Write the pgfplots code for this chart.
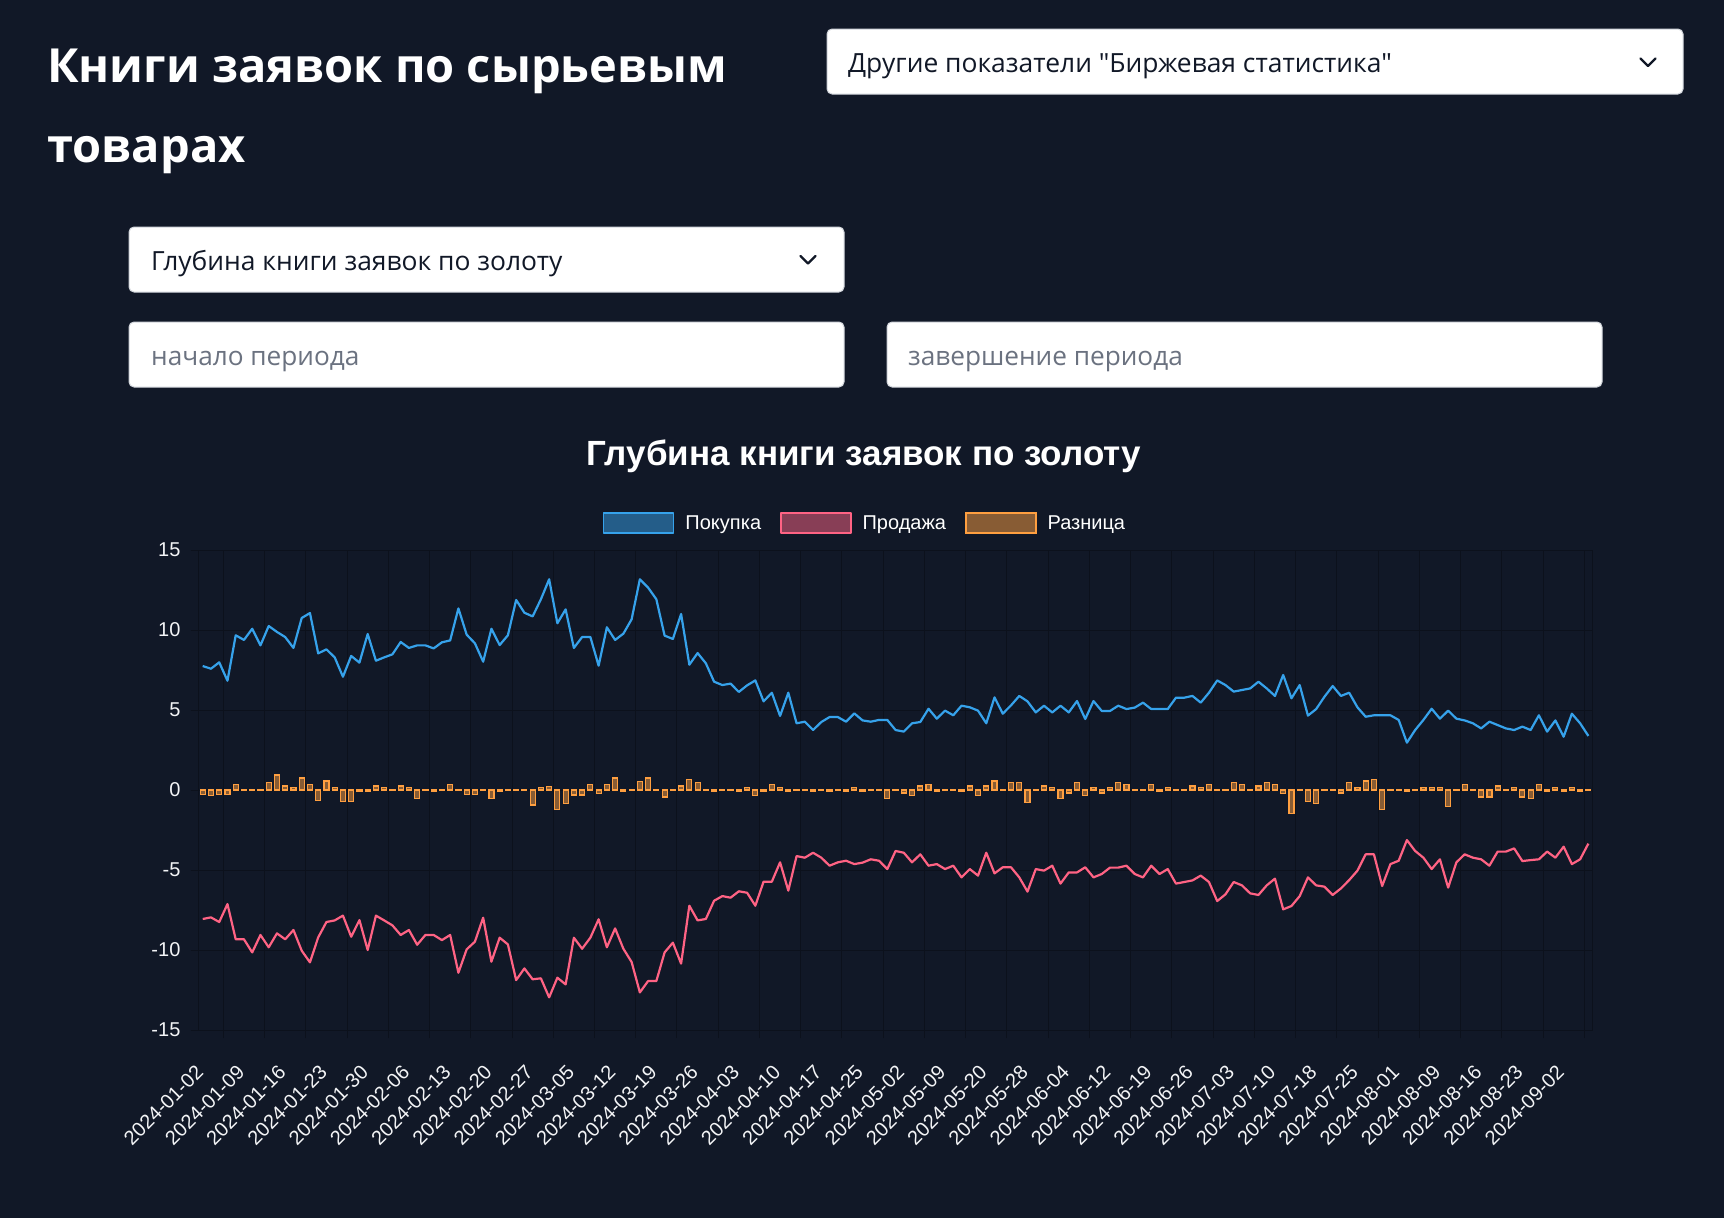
\documentclass[border=0pt]{standalone}
\usepackage{fontspec}
\setmainfont{Liberation Sans}
\newfontfamily\uifont{Open Sans}
\usepackage{pgfplots}
\usepackage{pgfplotstable}
\pgfplotsset{compat=1.18}
\definecolor{bgc}{HTML}{111827}
\definecolor{gridc}{HTML}{0C111C}
\definecolor{blueC}{HTML}{36A2EB}
\definecolor{blueF}{HTML}{245D89}
\definecolor{redC}{HTML}{FF6384}
\definecolor{redF}{HTML}{883E56}
\definecolor{orangeC}{HTML}{FF9F40}
\definecolor{orangeF}{HTML}{885C34}
\definecolor{tickc}{HTML}{F3F4F6}
\definecolor{bordc}{HTML}{D1D5DB}
\definecolor{darktext}{HTML}{111827}
\definecolor{phc}{HTML}{6B7280}
\pgfplotstableread{
i b s d
0 7.75 -8.06 -0.27
1 7.58 -7.96 -0.35
2 7.98 -8.25 -0.27
3 6.83 -7.13 -0.27
4 9.67 -9.33 0.35
5 9.38 -9.33 0.04
6 10.08 -10.15 -0.05
7 9.04 -9.06 0.02
8 10.25 -9.83 0.46
9 9.88 -8.96 0.94
10 9.56 -9.33 0.25
11 8.88 -8.75 0.17
12 10.75 -10.04 0.75
13 11.06 -10.77 0.35
14 8.54 -9.21 -0.65
15 8.79 -8.25 0.56
16 8.29 -8.15 0.17
17 7.08 -7.85 -0.73
18 8.38 -9.17 -0.73
19 7.96 -8.13 -0.1
20 9.75 -10.0 -0.1
21 8.08 -7.85 0.25
22 8.29 -8.15 0.17
23 8.48 -8.46 0.03
24 9.25 -9.06 0.25
25 8.88 -8.75 0.17
26 9.04 -9.67 -0.54
27 9.04 -9.06 0.03
28 8.85 -9.06 -0.1
29 9.23 -9.38 -0.05
30 9.35 -9.06 0.35
31 11.35 -11.42 0.03
32 9.71 -9.96 -0.27
33 9.17 -9.48 -0.27
34 8.02 -7.98 0.03
35 10.08 -10.73 -0.54
36 9.06 -9.23 -0.1
37 9.67 -9.65 0.03
38 11.88 -11.88 0.03
39 11.08 -11.15 -0.05
40 10.85 -11.83 -0.94
41 11.92 -11.77 0.15
42 13.17 -12.96 0.21
43 10.42 -11.73 -1.21
44 11.29 -12.15 -0.83
45 8.88 -9.23 -0.31
46 9.56 -9.92 -0.31
47 9.56 -9.23 0.35
48 7.77 -8.08 -0.23
49 10.17 -9.83 0.35
50 9.38 -8.65 0.75
51 9.77 -9.92 -0.1
52 10.67 -10.75 -0.05
53 13.17 -12.65 0.54
54 12.65 -11.94 0.75
55 11.92 -11.94 0.03
56 9.65 -10.15 -0.44
57 9.44 -9.54 -0.05
58 11.0 -10.85 0.25
59 7.83 -7.23 0.67
60 8.56 -8.15 0.46
61 7.92 -8.06 -0.05
62 6.77 -6.92 -0.1
63 6.56 -6.63 -0.05
64 6.65 -6.73 -0.05
65 6.13 -6.33 -0.1
66 6.54 -6.42 0.17
67 6.85 -7.23 -0.35
68 5.54 -5.73 -0.1
69 6.08 -5.73 0.35
70 4.63 -4.52 0.17
71 6.08 -6.29 -0.1
72 4.17 -4.13 0.03
73 4.27 -4.23 0.03
74 3.75 -3.92 -0.1
75 4.25 -4.23 0.03
76 4.56 -4.73 -0.1
77 4.56 -4.52 0.03
78 4.27 -4.42 -0.1
79 4.79 -4.63 0.17
80 4.35 -4.54 -0.1
81 4.27 -4.33 -0.05
82 4.38 -4.42 -0.05
83 4.38 -4.94 -0.54
84 3.75 -3.81 -0.05
85 3.65 -3.92 -0.19
86 4.17 -4.52 -0.35
87 4.25 -4.02 0.25
88 5.08 -4.73 0.35
89 4.46 -4.63 -0.1
90 4.96 -4.94 0.03
91 4.67 -4.73 -0.05
92 5.27 -5.46 -0.1
93 5.17 -4.94 0.25
94 4.96 -5.35 -0.35
95 4.17 -3.92 0.25
96 5.79 -5.21 0.56
97 4.77 -4.83 -0.05
98 5.29 -4.83 0.46
99 5.88 -5.46 0.46
100 5.54 -6.35 -0.77
101 4.85 -4.94 -0.05
102 5.27 -5.04 0.25
103 4.85 -4.73 0.17
104 5.27 -5.85 -0.54
105 4.85 -5.15 -0.19
106 5.56 -5.15 0.46
107 4.44 -4.83 -0.35
108 5.56 -5.46 0.17
109 4.94 -5.25 -0.19
110 4.94 -4.85 0.17
111 5.27 -4.85 0.46
112 5.06 -4.73 0.35
113 5.15 -5.25 -0.05
114 5.46 -5.46 0.03
115 5.06 -4.73 0.35
116 5.06 -5.25 -0.1
117 5.06 -4.94 0.17
118 5.77 -5.85 -0.05
119 5.77 -5.75 0.03
120 5.88 -5.65 0.25
121 5.46 -5.35 0.17
122 6.08 -5.75 0.35
123 6.85 -6.94 -0.05
124 6.56 -6.52 0.03
125 6.15 -5.75 0.46
126 6.25 -5.96 0.35
127 6.35 -6.46 -0.05
128 6.77 -6.56 0.25
129 6.35 -5.96 0.46
130 5.88 -5.54 0.35
131 7.19 -7.46 -0.23
132 5.73 -7.25 -1.46
133 6.56 -6.63 -0.05
134 4.65 -5.46 -0.73
135 5.06 -5.96 -0.83
136 5.83 -6.04 0.03
137 6.5 -6.56 -0.05
138 5.88 -6.15 -0.19
139 6.08 -5.63 0.46
140 5.17 -5.04 0.17
141 4.58 -4.02 0.56
142 4.67 -4.02 0.67
143 4.67 -6.0 -1.21
144 4.67 -4.63 0.03
145 4.38 -4.42 -0.05
146 2.96 -3.13 -0.1
147 3.75 -3.81 -0.05
148 4.38 -4.23 0.17
149 5.08 -4.94 0.17
150 4.46 -4.33 0.17
151 4.96 -6.1 -1.02
152 4.46 -4.52 -0.05
153 4.35 -4.02 0.35
154 4.17 -4.23 -0.05
155 3.85 -4.33 -0.44
156 4.27 -4.73 -0.44
157 4.06 -3.85 0.25
158 3.85 -3.85 0.03
159 3.75 -3.65 0.17
160 3.96 -4.44 -0.44
161 3.75 -4.38 -0.54
162 4.67 -4.33 0.35
163 3.65 -3.85 -0.1
164 4.35 -4.23 0.17
165 3.33 -3.54 -0.1
166 4.77 -4.63 0.17
167 4.17 -4.33 -0.1
168 3.38 -3.35 0.03
}\data
\begin{document}
\begin{tikzpicture}
\useasboundingbox (0pt,0pt) rectangle (1724pt,-1218pt);
\fill[bgc] (0pt,0pt) rectangle (1724pt,-1218pt);
% page title
\node[anchor=base west, inner sep=0pt, text=white, font=\uifont\bfseries\fontsize{47}{56}\selectfont] at (47pt,-82pt) {Книги заявок по сырьевым};
\node[anchor=base west, inner sep=0pt, text=white, font=\uifont\bfseries\fontsize{47}{56}\selectfont] at (47pt,-162pt) {товарах};
% top-right dropdown
\filldraw[fill=white, draw=bordc, line width=1pt, rounded corners=5pt] (827pt,-29pt) rectangle (1683pt,-94pt);
\node[anchor=base west, inner sep=0pt, text=darktext, font=\uifont\fontsize{26.4}{31}\selectfont] at (848pt,-72pt) {Другие показатели "Биржевая статистика"};
\draw[darktext, line width=2.2pt, line cap=round, line join=round] (1640.5pt,-58.5pt) -- (1648pt,-66pt) -- (1655.5pt,-58.5pt);
% dropdown 2
\filldraw[fill=white, draw=bordc, line width=1pt, rounded corners=5pt] (129pt,-227pt) rectangle (844pt,-292pt);
\node[anchor=base west, inner sep=0pt, text=darktext, font=\uifont\fontsize{26.4}{31}\selectfont] at (151pt,-270pt) {Глубина книги заявок по золоту};
\draw[darktext, line width=2.2pt, line cap=round, line join=round] (800.5pt,-256pt) -- (808pt,-263.5pt) -- (815.5pt,-256pt);
% inputs
\filldraw[fill=white, draw=bordc, line width=1pt, rounded corners=5pt] (129pt,-322pt) rectangle (844pt,-387pt);
\node[anchor=base west, inner sep=0pt, text=phc, font=\uifont\fontsize{26.2}{31}\selectfont] at (151pt,-365pt) {начало периода};
\filldraw[fill=white, draw=bordc, line width=1pt, rounded corners=5pt] (887pt,-322pt) rectangle (1602pt,-387pt);
\node[anchor=base west, inner sep=0pt, text=phc, font=\uifont\fontsize{26.2}{31}\selectfont] at (908pt,-365pt) {завершение периода};
% chart title
\node[text=white, font=\bfseries\fontsize{35}{42}\selectfont] at (864pt,-456pt) {Глубина книги заявок по золоту};
\begin{axis}[
  at={(198.6pt,-1030pt)}, anchor=south west,
  scale only axis, width=1393.9pt, height=480pt,
  xmin=-0.5, xmax=168.5, ymin=-15, ymax=15,
  axis line style={draw=gridc, line width=1pt},
  xtick pos=bottom, ytick pos=left,
  xtick={0,5,...,165},
  xticklabels={2024-01-02,2024-01-09,2024-01-16,2024-01-23,2024-01-30,2024-02-06,2024-02-13,2024-02-20,2024-02-27,2024-03-05,2024-03-12,2024-03-19,2024-03-26,2024-04-03,2024-04-10,2024-04-17,2024-04-25,2024-05-02,2024-05-09,2024-05-20,2024-05-28,2024-06-04,2024-06-12,2024-06-19,2024-06-26,2024-07-03,2024-07-10,2024-07-18,2024-07-25,2024-08-01,2024-08-09,2024-08-16,2024-08-23,2024-09-02},
  minor xtick={2.5,7.5,...,167.5},
  ytick={-15,-10,...,15},
  yticklabels={-15,-10,-5,0,5,10,15},
  xminorgrids, ymajorgrids,
  major grid style={draw=gridc, line width=1pt},
  minor grid style={draw=gridc, line width=1pt},
  tick align=outside, major tick length=8pt, minor tick length=8pt,
  major x tick style={draw=none},
  minor x tick style={draw=gridc, line width=1pt},
  ytick style={draw=gridc, line width=1pt},
  xticklabel style={font=\fontsize{20}{24}\selectfont, text=tickc, inner sep=0pt, yshift=-31pt, xshift=-3pt, rotate=45, anchor=east},
  yticklabel style={font=\fontsize{20}{24}\selectfont, text=tickc, anchor=east, inner sep=0pt, xshift=-10pt},
  legend columns=3,
  legend style={draw=none, fill=none, at={(0.4774,1.05625)}, anchor=center, font=\fontsize{20}{24}\selectfont, text=white, inner sep=0pt,
    nodes={inner xsep=0pt, inner ysep=2pt},
    /tikz/every odd column/.append style={column sep=11pt},
    /tikz/every even column/.append style={column sep=19pt}},
]
\addplot[blueC, line width=2.2pt, mark=none, line join=round,
  legend image code/.code={\draw[draw=blueC, fill=blueF, line width=1.5pt] (0pt,-10pt) rectangle (70pt,10pt);}]
  table[x=i, y=b] {\data};
\addlegendentry{Покупка}
\addplot[redC, line width=2.2pt, mark=none, line join=round,
  legend image code/.code={\draw[draw=redC, fill=redF, line width=1.5pt] (0pt,-10pt) rectangle (70pt,10pt);}]
  table[x=i, y=s] {\data};
\addlegendentry{Продажа}
\addplot[ybar, bar width=5pt, fill=orangeF, draw=orangeC, line width=1.2pt,
  legend image code/.code={\draw[draw=orangeC, fill=orangeF, line width=1.5pt] (0pt,-10pt) rectangle (70pt,10pt);}]
  table[x=i, y=d] {\data};
\addlegendentry{Разница}
\end{axis}
\end{tikzpicture}
\end{document}
